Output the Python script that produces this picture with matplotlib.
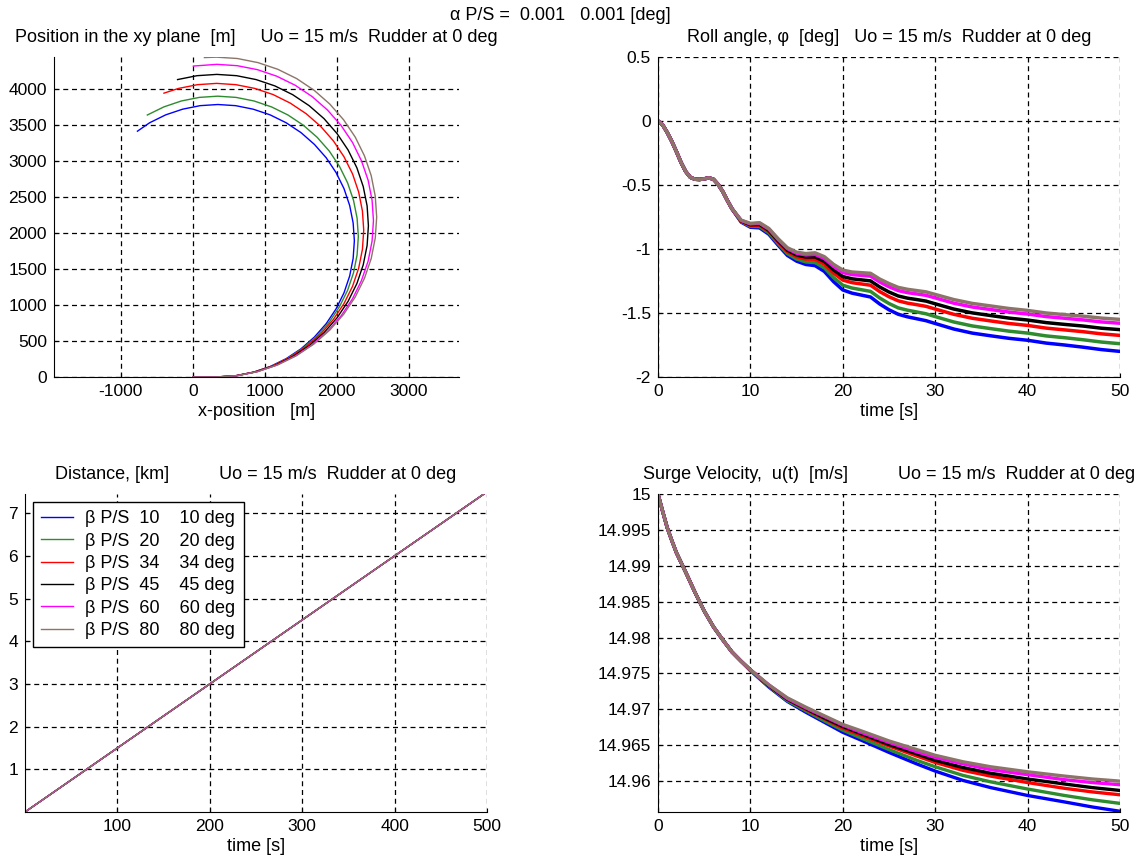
import numpy as np
import matplotlib.pyplot as plt

plt.rcParams['font.family'] = ['Liberation Sans', 'DejaVu Sans']
plt.rcParams['font.size'] = 13
plt.rcParams['axes.titlesize'] = 13
plt.rcParams['axes.labelsize'] = 13
plt.rcParams['xtick.labelsize'] = 12.5
plt.rcParams['ytick.labelsize'] = 12.5
plt.rcParams['axes.unicode_minus'] = False

# fin angles (P/S) and line colours
beta = [10, 20, 34, 45, 60, 80]
colors = ['#0000ff', '#2e8b2e', '#ff0000', '#000000', '#ff00ff', '#8c7468']

# --- position in the xy plane [m] ---
blue_x = [0, 350, 597, 840, 1075, 1298, 1504, 1690, 1854, 1991, 2101, 2180, 2228, 2245, 2228, 2180,
          2101, 1991, 1854, 1690, 1504, 1298, 1075, 840, 597, 350, 103, -140, -375, -598, -767]
blue_y = [0, 1, 17, 66, 145, 255, 392, 556, 742, 948, 1171, 1406, 1649, 1896, 2143, 2386,
          2621, 2844, 3050, 3236, 3400, 3537, 3647, 3726, 3775, 3791, 3775, 3726, 3647, 3537, 3420]
green_x = [0, 347, 602, 852, 1094, 1323, 1536, 1728, 1897, 2038, 2151, 2233, 2283, 2300, 2283,
           2233, 2151, 2038, 1897, 1728, 1536, 1323, 1094, 852, 602, 347, 92, -158, -400, -630]
green_y = [0, 1, 18, 68, 150, 263, 405, 573, 765, 978, 1206, 1449, 1699, 1954, 2209,
           2459, 2701, 2931, 3143, 3335, 3503, 3645, 3758, 3840, 3890, 3907, 3890, 3840, 3758, 3645]
red_x = [0, 333, 600, 862, 1115, 1354, 1576, 1777, 1953, 2101, 2220, 2305, 2357, 2375, 2357,
         2305, 2220, 2101, 1953, 1777, 1576, 1354, 1115, 862, 600, 333, 67, -196, -399]
red_y = [0, 1, 19, 71, 156, 275, 423, 599, 800, 1022, 1262, 1515, 1777, 2043, 2309,
         2572, 2825, 3064, 3286, 3487, 3663, 3811, 3930, 4015, 4067, 4085, 4067, 4015, 3949]
black_x = [0, 335, 610, 880, 1141, 1388, 1617, 1824, 2005, 2158, 2280, 2368, 2422, 2440,
           2422, 2368, 2280, 2158, 2005, 1824, 1617, 1388, 1141, 880, 610, 335, 60, -210]
black_y = [0, 0, 18, 72, 160, 282, 435, 617, 824, 1053, 1300, 1560, 1830, 2105,
           2380, 2650, 2910, 3158, 3386, 3594, 3775, 3928, 4050, 4138, 4192, 4210, 4192, 4138]
magenta_x = [0, 335, 619, 898, 1167, 1423, 1659, 1873, 2061, 2219, 2344, 2436, 2491, 2510,
             2491, 2436, 2344, 2219, 2061, 1873, 1659, 1423, 1167, 898, 619, 335, 10]
magenta_y = [0, 0, 19, 74, 166, 291, 449, 637, 851, 1088, 1343, 1612, 1891, 2175,
             2459, 2738, 3007, 3263, 3499, 3713, 3901, 4059, 4185, 4276, 4331, 4350, 4326]
brown_x = [0, 330, 620, 906, 1182, 1443, 1685, 1903, 2095, 2257, 2385, 2479, 2535, 2555,
           2535, 2479, 2385, 2257, 2095, 1903, 1685, 1443, 1182, 906, 620, 330, 163]
brown_y = [0, 0, 19, 76, 169, 298, 460, 652, 871, 1113, 1373, 1649, 1934, 2225,
           2516, 2801, 3077, 3338, 3579, 3798, 3990, 4152, 4281, 4374, 4431, 4450, 4444]

# --- roll angle [deg] ---
roll_t = [0, 0.5, 1, 1.5, 2, 2.5, 3, 3.5, 4, 4.5, 5, 5.5, 6, 6.5, 7, 7.5, 8,
          9, 10, 11, 12, 13, 14, 15, 16, 17, 18, 19, 20, 21, 22, 23, 24, 25,
          26, 27, 28, 29, 30, 32, 34, 36, 38, 40, 42, 44, 46, 48, 50]
roll_start = [0, -0.03, -0.09, -0.16, -0.24, -0.325, -0.395, -0.44, -0.455,
              -0.457, -0.452, -0.444, -0.455, -0.495, -0.55, -0.62, -0.685]
roll_blue = roll_start + [-0.790, -0.830, -0.835, -0.885, -0.970, -1.050, -1.095, -1.121, -1.130, -1.175, -1.255,
                          -1.320, -1.345, -1.360, -1.375, -1.430, -1.475, -1.510, -1.530, -1.545, -1.560, -1.582,
                          -1.625, -1.657, -1.678, -1.698, -1.713, -1.735, -1.750, -1.767, -1.786, -1.800]
roll_green = roll_start + [-0.786, -0.823, -0.825, -0.874, -0.958, -1.036, -1.078, -1.101, -1.106, -1.147, -1.223,
                           -1.283, -1.305, -1.318, -1.331, -1.383, -1.426, -1.460, -1.478, -1.492, -1.506, -1.528,
                           -1.570, -1.601, -1.622, -1.642, -1.657, -1.679, -1.693, -1.709, -1.727, -1.740]
roll_red = roll_start + [-0.783, -0.815, -0.815, -0.863, -0.945, -1.020, -1.060, -1.079, -1.080, -1.118, -1.188,
                         -1.243, -1.263, -1.273, -1.283, -1.333, -1.373, -1.405, -1.423, -1.435, -1.448, -1.469,
                         -1.510, -1.541, -1.562, -1.582, -1.597, -1.618, -1.632, -1.646, -1.663, -1.675]
roll_black = roll_start + [-0.780, -0.810, -0.808, -0.854, -0.936, -1.009, -1.047, -1.063, -1.062, -1.097, -1.163,
                           -1.215, -1.233, -1.241, -1.249, -1.297, -1.336, -1.367, -1.384, -1.395, -1.407, -1.428,
                           -1.469, -1.499, -1.520, -1.540, -1.555, -1.575, -1.589, -1.602, -1.619, -1.630]
roll_magenta = roll_start + [-0.777, -0.804, -0.800, -0.845, -0.926, -0.997, -1.033, -1.046, -1.042, -1.074, -1.136,
                             -1.184, -1.200, -1.206, -1.212, -1.258, -1.295, -1.325, -1.341, -1.351, -1.362, -1.382,
                             -1.423, -1.453, -1.473, -1.493, -1.508, -1.528, -1.541, -1.554, -1.570, -1.580]
roll_brown = roll_start + [-0.775, -0.800, -0.795, -0.840, -0.920, -0.990, -1.025, -1.036, -1.030, -1.060, -1.120,
                           -1.165, -1.180, -1.185, -1.190, -1.235, -1.270, -1.300, -1.315, -1.325, -1.335, -1.355,
                           -1.395, -1.425, -1.445, -1.465, -1.480, -1.500, -1.513, -1.525, -1.540, -1.550]

# --- distance [km] ---
dist_t = [0, 100, 200, 300, 400, 500]
dist_km = [0, 1.5, 3.0, 4.5, 6.0, 7.5]

# --- surge velocity [m/s] ---
surge_t = [0, 0.5, 1, 1.5, 2, 3, 4, 5, 6, 7, 8, 9,
           10, 12, 14, 16, 18, 20, 22, 25, 28, 30, 33, 36, 40, 44, 47, 50]
surge_start = [15.0, 14.9976, 14.9953, 14.9935, 14.9918, 14.9891, 14.9863, 14.9837, 14.9815, 14.9797, 14.9780, 14.9767]
surge_blue = surge_start + [14.9754, 14.9731, 14.9711, 14.9696, 14.9682, 14.9668, 14.9657, 14.9640,
                            14.9624, 14.9614, 14.9601, 14.9591, 14.9580, 14.9571, 14.9564, 14.9558]
surge_green = surge_start + [14.9754, 14.9732, 14.9712, 14.9698, 14.9684, 14.9671, 14.9660, 14.9644,
                             14.9629, 14.9620, 14.9608, 14.9599, 14.9589, 14.9580, 14.9574, 14.9569]
surge_red = surge_start + [14.9755, 14.9733, 14.9714, 14.9700, 14.9687, 14.9674, 14.9664, 14.9649,
                           14.9635, 14.9626, 14.9615, 14.9607, 14.9598, 14.9590, 14.9585, 14.9581]
surge_black = surge_start + [14.9755, 14.9733, 14.9714, 14.9701, 14.9688, 14.9676, 14.9666, 14.9651,
                             14.9638, 14.9629, 14.9619, 14.9611, 14.9603, 14.9596, 14.9591, 14.9587]
surge_magenta = surge_start + [14.9755, 14.9734, 14.9715, 14.9702, 14.9690, 14.9678, 14.9668, 14.9654,
                               14.9641, 14.9633, 14.9624, 14.9616, 14.9609, 14.9602, 14.9598, 14.9595]
surge_brown = surge_start + [14.9755, 14.9734, 14.9716, 14.9703, 14.9691, 14.9679, 14.9670, 14.9656,
                             14.9644, 14.9636, 14.9627, 14.9620, 14.9613, 14.9607, 14.9603, 14.9600]

pos = [(blue_x, blue_y), (green_x, green_y), (red_x, red_y),
       (black_x, black_y), (magenta_x, magenta_y), (brown_x, brown_y)]
rolls = [roll_blue, roll_green, roll_red, roll_black, roll_magenta, roll_brown]
surges = [surge_blue, surge_green, surge_red, surge_black, surge_magenta, surge_brown]

fig = plt.figure(figsize=(11.45, 8.65), dpi=100)
W, H = 1145, 865


def make_ax(l, t, r, b):
    ax = fig.add_axes([l / W, 1 - b / H, (r - l) / W, (b - t) / H])
    for s in ['top', 'right']:
        ax.spines[s].set_visible(False)
    ax.grid(True, color='black', linestyle=(0, (4, 3)), linewidth=0.9)
    ax.tick_params(direction='in', length=3, color='black', pad=5)
    return ax


ax1 = make_ax(54, 57, 459, 377)
ax2 = make_ax(658, 57, 1120, 377)
ax3 = make_ax(25, 494, 487, 812)
ax4 = make_ax(658, 494, 1120, 812)

# xy plane
for (x, y), c in zip(pos, colors):
    ax1.plot(x, y, color=c, lw=1.0)
ax1.set_xlim(-1926, 3698)
ax1.set_ylim(0, 4452)
ax1.set_xticks([-1000, 0, 1000, 2000, 3000])
ax1.set_yticks(np.arange(0, 4001, 500))
ax1.set_title('Position in the xy plane  [m]     Uo = 15 m/s  Rudder at 0 deg', pad=11)
ax1.set_xlabel('x-position   [m]', labelpad=3)

# roll angle
for r, c in zip(rolls, colors):
    ax2.plot(roll_t, r, color=c, lw=2.5)
ax2.set_xlim(0, 50)
ax2.set_ylim(-2, 0.5)
ax2.set_xticks([0, 10, 20, 30, 40, 50])
ax2.set_yticks([-2, -1.5, -1, -0.5, 0, 0.5])
ax2.set_yticklabels(['-2', '-1.5', '-1', '-0.5', '0', '0.5'])
ax2.set_title('Roll angle, \u03c6  [deg]   Uo = 15 m/s  Rudder at 0 deg', pad=11)
ax2.set_xlabel('time [s]', labelpad=3)

# distance
for b, c in zip(beta, colors):
    ax3.plot(dist_t, dist_km, color=c, lw=1.0,
             label=f'\u03b2 P/S  {b}    {b} deg')
ax3.set_xlim(0, 500)
ax3.set_ylim(0, 7.45)
ax3.set_xticks([100, 200, 300, 400, 500])
ax3.set_yticks([1, 2, 3, 4, 5, 6, 7])
ax3.set_title('Distance, [km]          Uo = 15 m/s  Rudder at 0 deg', pad=11)
ax3.set_xlabel('time [s]', labelpad=3)
leg = ax3.legend(loc='upper left', bbox_to_anchor=(8 / 462, 1 - 8 / 318),
                 borderaxespad=0, fancybox=False, framealpha=1,
                 edgecolor='black', handlelength=1.75, labelspacing=0.3,
                 handletextpad=0.7, borderpad=0.45, fontsize=13)
leg.get_frame().set_linewidth(1.0)

# surge velocity
for s, c in zip(surges, colors):
    ax4.plot(surge_t, s, color=c, lw=2.4)
ax4.set_xlim(0, 50)
ax4.set_ylim(14.9557, 15.0)
ax4.set_xticks([0, 10, 20, 30, 40, 50])
yt = [14.96, 14.965, 14.97, 14.975, 14.98, 14.985, 14.99, 14.995, 15.0]
ax4.set_yticks(yt)
ax4.set_yticklabels(['%g' % v for v in yt])
ax4.set_title('Surge Velocity,  u(t)  [m/s]          Uo = 15 m/s  Rudder at 0 deg', pad=11)
ax4.set_xlabel('time [s]', labelpad=3)

fig.text(560 / W, 1 - 16 / H, '\u03b1 P/S =  0.001   0.001 [deg]', ha='center', va='center')

fig.savefig('out.png', dpi=100)
